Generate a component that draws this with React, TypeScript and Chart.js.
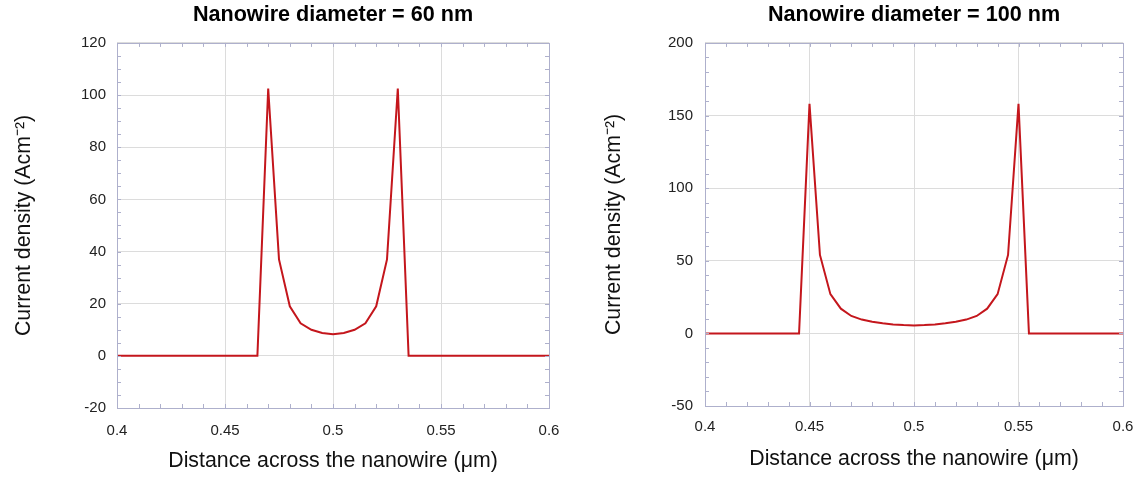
import React, { useEffect, useRef } from 'react';
import { Chart, registerables } from 'chart.js';

Chart.register(...registerables);

// ---------- data ----------
const xTickValues = [0.4, 0.45, 0.5, 0.55, 0.6];
const xTickLabels = ['0.4', '0.45', '0.5', '0.55', '0.6'];

const xAxisTitle = 'Distance across the nanowire (\u03bcm)';
const yAxisTitle = 'Current density (Acm\u207b\u00b2)';

// 60 nm nanowire
const title60 = 'Nanowire diameter = 60 nm';
const yTicks60 = [-20, 0, 20, 40, 60, 80, 100, 120];
const yTickLabels60 = ['-20', '0', '20', '40', '60', '80', '100', '120'];
const x60 = [0.4, 0.465, 0.47, 0.475, 0.48, 0.485, 0.49, 0.495, 0.5, 0.505, 0.51, 0.515, 0.52, 0.525, 0.53, 0.535, 0.6];
const j60 = [0, 0, 102.5, 37, 19, 12.5, 10, 8.8, 8.3, 8.8, 10, 12.5, 19, 37, 102.5, 0, 0];

// 100 nm nanowire
const title100 = 'Nanowire diameter = 100 nm';
const yTicks100 = [-50, 0, 50, 100, 150, 200];
const yTickLabels100 = ['-50', '0', '50', '100', '150', '200'];
const x100 = [0.4, 0.445, 0.45, 0.455, 0.46, 0.465, 0.47, 0.475, 0.48, 0.485, 0.49, 0.495, 0.5, 0.505, 0.51, 0.515, 0.52, 0.525, 0.53, 0.535, 0.54, 0.545, 0.55, 0.555, 0.6];
const j100 = [0, 0, 158, 54, 27, 17, 12, 9.5, 8, 7, 6.2, 5.7, 5.4, 5.7, 6.2, 7, 8, 9.5, 12, 17, 27, 54, 158, 0, 0];

// ---------- styling ----------
const FONT = "'Liberation Sans', Arial, Helvetica, sans-serif";
const LINE_COLOR = '#c4161c';
const FRAME_COLOR = '#aeb0cc';
const GRID_COLOR = '#dcdcdc';

const framePlugin = {
  id: 'frameTicks',
  afterDraw(chart: any, _args: any, opts: any) {
    const { ctx, chartArea } = chart;
    const { left, right, top, bottom } = chartArea;
    const xs = chart.scales.x;
    const ys = chart.scales.y;
    const len = opts.len || 4;
    ctx.save();
    ctx.strokeStyle = opts.color || FRAME_COLOR;
    ctx.lineWidth = 1;
    ctx.beginPath();
    const nx = Math.round((xs.max - xs.min) / opts.xMinor);
    for (let i = 0; i <= nx; i++) {
      const v = xs.min + i * opts.xMinor;
      const px = Math.round(xs.getPixelForValue(v)) + 0.5;
      ctx.moveTo(px, bottom);
      ctx.lineTo(px, bottom - len);
      ctx.moveTo(px, top);
      ctx.lineTo(px, top + len);
    }
    const ny = Math.round((ys.max - ys.min) / opts.yMinor);
    for (let i = 0; i <= ny; i++) {
      const v = ys.min + i * opts.yMinor;
      const py = Math.round(ys.getPixelForValue(v)) + 0.5;
      ctx.moveTo(left, py);
      ctx.lineTo(left + len, py);
      ctx.moveTo(right, py);
      ctx.lineTo(right - len, py);
    }
    ctx.stroke();
    ctx.strokeRect(Math.round(left) + 0.5, Math.round(top) + 0.5, Math.round(right - left), Math.round(bottom - top));
    ctx.restore();
  },
};

type PanelProps = {
  title: string;
  xs: number[];
  ys: number[];
  yTicks: number[];
  yTickLabels: string[];
  yMinor: number;
  width: number;
  left: number;
  yAxisWidth: number;
  xAxisHeight: number;
  padRight: number;
  yTitlePad: number;
  xTitlePad: number;
  yTickPad: number;
  xTickPad: number;
};

function Panel(p: PanelProps) {
  const ref = useRef<HTMLCanvasElement | null>(null);
  useEffect(() => {
    if (!ref.current) return;
    const points = p.xs.map((x, i) => ({ x, y: p.ys[i] }));
    const chart = new Chart(ref.current, {
      type: 'scatter',
      data: {
        datasets: [
          {
            data: points,
            showLine: true,
            borderColor: LINE_COLOR,
            backgroundColor: LINE_COLOR,
            borderWidth: 2,
            pointRadius: 0,
            tension: 0,
          },
        ],
      },
      options: {
        responsive: false,
        animation: false,
        layout: { padding: { left: 0, right: p.padRight, top: 0, bottom: 0 } },
        plugins: {
          legend: { display: false },
          tooltip: { enabled: false },
          title: {
            display: true,
            fullSize: false,
            text: p.title,
            color: '#000',
            font: { family: FONT, size: 21.6, weight: 'bold' },
            padding: { top: 2, bottom: 15 },
          },
          frameTicks: { xMinor: 0.01, yMinor: p.yMinor, len: 4, color: FRAME_COLOR },
        } as any,
        scales: {
          x: {
            type: 'linear',
            min: xTickValues[0],
            max: xTickValues[xTickValues.length - 1],
            afterBuildTicks: (s: any) => {
              s.ticks = xTickValues.map((v) => ({ value: v }));
            },
            afterFit: (s: any) => {
              s.height = p.xAxisHeight;
              s.paddingLeft = 0;
              s.paddingRight = 0;
            },
            ticks: {
              autoSkip: false,
              maxRotation: 0,
              padding: p.xTickPad,
              color: '#222',
              font: { family: FONT, size: 15 },
              callback: (_v: any, i: number) => xTickLabels[i],
            },
            grid: { color: GRID_COLOR, drawTicks: false, lineWidth: 1 },
            border: { display: false },
            title: {
              display: true,
              text: xAxisTitle,
              color: '#111',
              font: { family: FONT, size: 21.3 },
              padding: { top: 0, bottom: p.xTitlePad },
            },
          },
          y: {
            type: 'linear',
            min: p.yTicks[0],
            max: p.yTicks[p.yTicks.length - 1],
            afterBuildTicks: (s: any) => {
              s.ticks = p.yTicks.map((v) => ({ value: v }));
            },
            afterFit: (s: any) => {
              s.width = p.yAxisWidth;
              s.paddingTop = 0;
              s.paddingBottom = 0;
            },
            ticks: {
              padding: p.yTickPad,
              color: '#222',
              font: { family: FONT, size: 15 },
              callback: (_v: any, i: number) => p.yTickLabels[i],
            },
            grid: { color: GRID_COLOR, drawTicks: false, lineWidth: 1 },
            border: { display: false },
            title: {
              display: true,
              text: yAxisTitle,
              color: '#111',
              font: { family: FONT, size: 21.3 },
              padding: { top: p.yTitlePad, bottom: 0 },
            },
          },
        },
      } as any,
      plugins: [framePlugin as any],
    });
    return () => chart.destroy();
  }, []);
  return (
    <canvas
      ref={ref}
      width={p.width}
      height={477}
      style={{ position: 'absolute', left: p.left, top: 0, width: p.width, height: 477 }}
    />
  );
}

export default function App() {
  return (
    <div style={{ position: 'absolute', left: 0, top: 0, width: 1139, height: 477, background: '#fff' }}>
      <Panel
        title={title60}
        xs={x60}
        ys={j60}
        yTicks={yTicks60}
        yTickLabels={yTickLabels60}
        yMinor={5}
        width={580}
        left={0}
        yAxisWidth={117}
        xAxisHeight={69}
        padRight={31}
        yTitlePad={11}
        xTitlePad={3}
        yTickPad={11}
        xTickPad={14}
      />
      <Panel
        title={title100}
        xs={x100}
        ys={j100}
        yTicks={yTicks100}
        yTickLabels={yTickLabels100}
        yMinor={10}
        width={559}
        left={580}
        yAxisWidth={125}
        xAxisHeight={71}
        padRight={16}
        yTitlePad={21}
        xTitlePad={5}
        yTickPad={12}
        xTickPad={12}
      />
    </div>
  );
}
